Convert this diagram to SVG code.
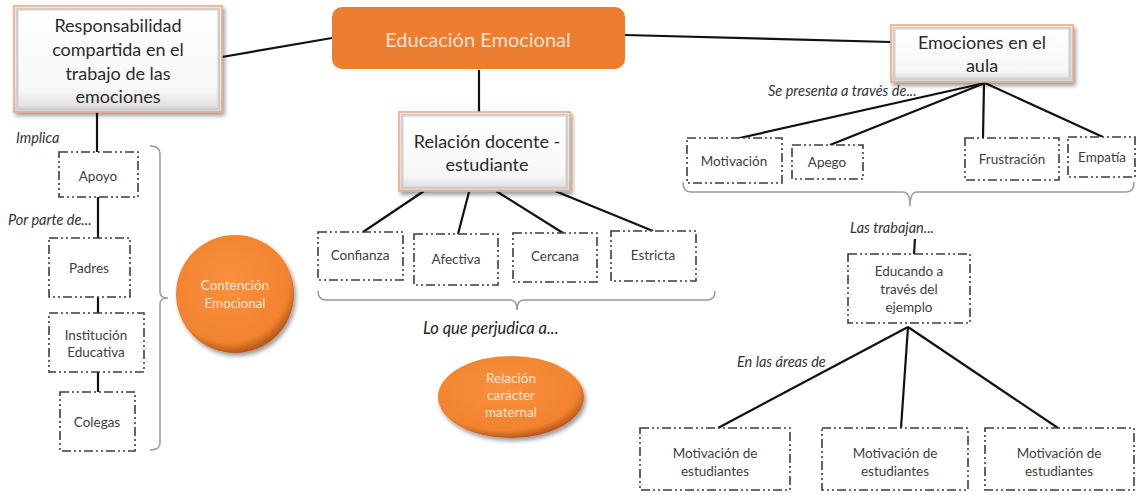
<svg xmlns="http://www.w3.org/2000/svg" width="1138" height="495" viewBox="0 0 1138 495">
<defs>
<linearGradient id="bev" x1="0" y1="0" x2="0" y2="1">
<stop offset="0" stop-color="#ffffff"/>
<stop offset="0.8" stop-color="#f7f7f7"/>
<stop offset="1" stop-color="#d9d9d9"/>
</linearGradient>
<radialGradient id="orb" cx="0.45" cy="0.4" r="0.6">
<stop offset="0" stop-color="#F9903E"/>
<stop offset="0.85" stop-color="#F2832F"/>
<stop offset="1" stop-color="#B9571A"/>
</radialGradient>
<filter id="sh" x="-10%" y="-10%" width="130%" height="130%">
<feGaussianBlur in="SourceAlpha" stdDeviation="2"/>
<feOffset dx="2" dy="3" result="b"/>
<feComponentTransfer><feFuncA type="linear" slope="0.4"/></feComponentTransfer>
<feMerge><feMergeNode/><feMergeNode in="SourceGraphic"/></feMerge>
</filter>
</defs>
<style>
.main{fill:url(#bev);stroke:#EBA57C;stroke-width:1.5;filter:url(#sh)}
.inner{fill:none;stroke:#cfcfcf;stroke-width:3}
.mt{font-family:Lato,"Liberation Sans",sans-serif;font-size:18px;fill:#2b2b2b;text-anchor:middle}
.db{fill:#fff;stroke:#3c3c3c;stroke-width:1.6;stroke-dasharray:9 3 2 3 2 3}
.st{font-family:Lato,"Liberation Sans",sans-serif;font-size:13.5px;fill:#404040;text-anchor:middle}
.it{font-family:Lato,"Liberation Sans",sans-serif;font-size:14.5px;font-style:italic;fill:#333}
.big{font-size:16.5px;fill:#222}
.ln{stroke:#111;stroke-width:2.2;fill:none}
.br{stroke:#9a9a9a;stroke-width:1.5;fill:none}
.ot{font-family:Lato,"Liberation Sans",sans-serif;font-size:13.5px;fill:#FCE4D2;text-anchor:middle}
</style>

<g id="connectors">
<line class="ln" x1="222" y1="57" x2="332" y2="38"/>
<line class="ln" x1="625" y1="35" x2="891" y2="42"/>
<line class="ln" x1="479" y1="70" x2="479" y2="112"/>
<line class="ln" x1="97" y1="112" x2="97" y2="153"/>
<line class="ln" x1="98" y1="197" x2="98" y2="238"/>
<line class="ln" x1="98" y1="297" x2="98" y2="313"/>
<line class="ln" x1="98" y1="372" x2="98" y2="392"/>
<line class="ln" x1="424" y1="191" x2="363" y2="232"/>
<line class="ln" x1="469" y1="192" x2="458" y2="234"/>
<line class="ln" x1="496" y1="191" x2="563" y2="233"/>
<line class="ln" x1="555" y1="191" x2="653" y2="231"/>
<line class="ln" x1="985" y1="83" x2="735" y2="139"/>
<line class="ln" x1="985" y1="83" x2="830" y2="145"/>
<line class="ln" x1="984" y1="83" x2="983" y2="138"/>
<line class="ln" x1="985" y1="83" x2="1103" y2="137"/>
<line class="ln" x1="915" y1="239" x2="914" y2="254"/>
<line class="ln" x1="908" y1="327" x2="718" y2="428"/>
<line class="ln" x1="908" y1="327" x2="901" y2="428"/>
<line class="ln" x1="908" y1="327" x2="1058" y2="428"/>
<path class="br" d="M150,146 Q160,146 160,154 L160,292 Q160,298 168,298 Q160,298 160,304 L160,443 Q160,450 150,450"/>
<path class="br" d="M318,291 Q318,300 326,300 L510,300 Q517,300 517,310 Q517,300 524,300 L707,300 Q715,300 715,291"/>
<path class="br" d="M683,182 Q683,192 691,192 L903,192 Q910,192 910,206 Q910,192 917,192 L1126,192 Q1134,192 1134,182"/>
</g>

<g id="n-responsabilidad">
<rect class="main" x="14" y="6" width="208" height="106"/>
<rect class="inner" x="17" y="9" width="202" height="100"/>
<text class="mt" x="118" y="32">Responsabilidad</text>
<text class="mt" x="118" y="56">compartida en el</text>
<text class="mt" x="118" y="80">trabajo de las</text>
<text class="mt" x="118" y="103">emociones</text>
</g>

<g id="n-educacion">
<rect x="332" y="7" width="293" height="62" rx="10" fill="#ED7D31"/>
<text x="478" y="47" font-family="Lato,'Liberation Sans',sans-serif" font-size="20" fill="#FBE2D2" text-anchor="middle">Educación Emocional</text>
</g>

<g id="n-emociones">
<rect class="main" x="891" y="25" width="182" height="57"/>
<rect class="inner" x="894" y="28" width="176" height="51"/>
<text class="mt" x="982" y="49">Emociones en el</text>
<text class="mt" x="982" y="72">aula</text>
</g>

<g id="n-relacion">
<rect class="main" x="399" y="112" width="171" height="79"/>
<rect class="inner" x="402" y="115" width="165" height="73"/>
<text class="mt" x="487" y="148">Relación docente -</text>
<text class="mt" x="487" y="171">estudiante</text>
</g>

<g id="labels">
<text class="it" x="16" y="143">Implica</text>
<text class="it" x="8" y="225">Por parte de...</text>
<text class="it big" x="423" y="334">Lo que perjudica a...</text>
<text class="it" x="768" y="96">Se presenta a través de...</text>
<text class="it" x="850" y="233">Las trabajan...</text>
<text class="it" x="737" y="367">En las áreas de</text>
</g>

<g id="n-apoyo"><rect class="db" x="59" y="152" width="79" height="45"/><text class="st" x="98" y="181">Apoyo</text></g>
<g id="n-padres"><rect class="db" x="49" y="238" width="81" height="59"/><text class="st" x="89" y="273">Padres</text></g>
<g id="n-institucion"><rect class="db" x="49" y="313" width="95" height="59"/><text class="st" x="96" y="340">Institución</text><text class="st" x="96" y="357">Educativa</text></g>
<g id="n-colegas"><rect class="db" x="60" y="392" width="75" height="59"/><text class="st" x="97" y="427">Colegas</text></g>

<g id="n-contencion">
<circle cx="235" cy="294" r="59" fill="url(#orb)" filter="url(#sh)"/>
<text class="ot" x="235" y="290">Contención</text>
<text class="ot" x="235" y="308">Emocional</text>
</g>

<g id="n-confianza"><rect class="db" x="318" y="232" width="85" height="48"/><text class="st" x="360" y="260">Confianza</text></g>
<g id="n-afectiva"><rect class="db" x="414" y="234" width="84" height="51"/><text class="st" x="456" y="264">Afectiva</text></g>
<g id="n-cercana"><rect class="db" x="513" y="233" width="84" height="49"/><text class="st" x="555" y="261">Cercana</text></g>
<g id="n-estricta"><rect class="db" x="611" y="231" width="85" height="50"/><text class="st" x="653" y="260">Estricta</text></g>

<g id="n-maternal">
<ellipse cx="511" cy="397" rx="73" ry="41" fill="url(#orb)" filter="url(#sh)"/>
<text class="ot" x="511" y="383">Relación</text>
<text class="ot" x="511" y="400">carácter</text>
<text class="ot" x="511" y="417">maternal</text>
</g>

<g id="n-motivacion"><rect class="db" x="687" y="138" width="95" height="45"/><text class="st" x="734" y="166">Motivación</text></g>
<g id="n-apego"><rect class="db" x="792" y="145" width="71" height="34"/><text class="st" x="827" y="167">Apego</text></g>
<g id="n-frustracion"><rect class="db" x="965" y="138" width="94" height="42"/><text class="st" x="1012" y="164">Frustración</text></g>
<g id="n-empatia"><rect class="db" x="1068" y="137" width="67" height="40"/><text class="st" x="1102" y="162">Empatía</text></g>

<g id="n-educando">
<rect class="db" x="848" y="254" width="122" height="69"/>
<text class="st" x="909" y="276">Educando a</text>
<text class="st" x="909" y="294">través del</text>
<text class="st" x="909" y="312">ejemplo</text>
</g>

<g id="n-mot1"><rect class="db" x="640" y="428" width="150" height="62"/><text class="st" x="715" y="458">Motivación de</text><text class="st" x="715" y="476">estudiantes</text></g>
<g id="n-mot2"><rect class="db" x="822" y="428" width="146" height="62"/><text class="st" x="895" y="458">Motivación de</text><text class="st" x="895" y="476">estudiantes</text></g>
<g id="n-mot3"><rect class="db" x="985" y="428" width="149" height="62"/><text class="st" x="1059" y="458">Motivación de</text><text class="st" x="1059" y="476">estudiantes</text></g>
</svg>
